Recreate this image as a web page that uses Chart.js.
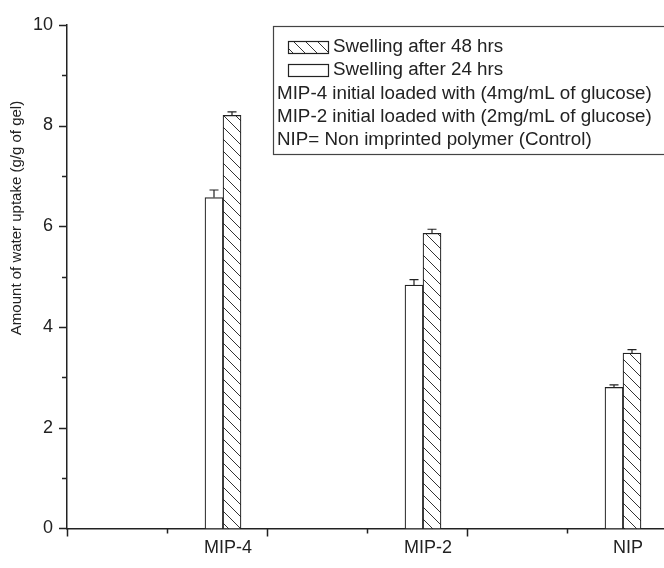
<!DOCTYPE html>
<html>
<head>
<meta charset="utf-8">
<script src="https://cdn.jsdelivr.net/npm/chart.js@4.4.0/dist/chart.umd.min.js"></script>
<style>
  body { margin: 0; background: #fff; }
  #wrap { width: 664px; height: 568px; }
</style>
</head>
<body>
<div id="wrap"><canvas id="chart"></canvas></div>
<script>
// data
let categories = ['MIP-4', 'MIP-2', 'NIP']
let swelling24 = [6.57, 4.83, 2.80]
let swelling24Err = [0.15, 0.11, 0.05]
let swelling48 = [8.20, 5.86, 3.48]
let swelling48Err = [0.07, 0.08, 0.07]
let yTicks = [0, 2, 4, 6, 8, 10]

// where the groups and their labels sit on the (hidden numeric) x axis
let groupX = [1.56, 3.56, 5.56]
let labelX = [1.61, 3.61, 5.61]

let ink = '#222'
let font = 'Liberation Sans, Arial, sans-serif'

function makeHatch(){
    let s = 12
    let c = document.createElement('canvas')
    c.width = s
    c.height = s
    let g = c.getContext('2d')
    g.fillStyle = '#fff'
    g.fillRect(0, 0, s, s)
    g.strokeStyle = '#333'
    g.lineWidth = 1
    g.beginPath()
    g.moveTo(0, 0); g.lineTo(s, s)
    g.moveTo(-s, 0); g.lineTo(0, s)
    g.moveTo(s, 0); g.lineTo(2 * s, s)
    g.stroke()
    return document.getElementById('chart').getContext('2d').createPattern(c, 'repeat')
}
let hatch = makeHatch()

function points(values){
    return values.map((v, i) => ({x: groupX[i], y: v}))
}

// upper error bars
const errorBars = {
    id: 'errorBars',
    afterDatasetsDraw(chart){
        const ctx = chart.ctx
        const y = chart.scales.y
        const errs = [swelling24Err, swelling48Err]
        ctx.save()
        ctx.strokeStyle = ink
        ctx.lineWidth = 1.2
        chart.data.datasets.forEach((ds, d) => {
            chart.getDatasetMeta(d).data.forEach((bar, i) => {
                let top = y.getPixelForValue(ds.data[i].y + errs[d][i])
                ctx.beginPath()
                ctx.moveTo(bar.x, bar.y)
                ctx.lineTo(bar.x, top)
                ctx.moveTo(bar.x - 4.5, top)
                ctx.lineTo(bar.x + 4.5, top)
                ctx.stroke()
            })
        })
        ctx.restore()
    }
}

// major + minor tick marks pointing outwards, plus the y title
const tickMarks = {
    id: 'tickMarks',
    afterDraw(chart){
        const ctx = chart.ctx
        const {x, y} = chart.scales
        const area = chart.chartArea
        ctx.save()
        ctx.strokeStyle = ink
        ctx.lineWidth = 1.5
        ctx.beginPath()
        for(let v = 0; v <= 10; v++){
            let py = Math.round(y.getPixelForValue(v)) + 0.5
            let len = v % 2 == 0 ? 8 : 5
            ctx.moveTo(area.left, py)
            ctx.lineTo(area.left - len, py)
        }
        for(let v = 0; v <= Math.floor(x.max); v++){
            let px = Math.round(x.getPixelForValue(v)) + 0.5
            let len = v % 2 == 0 ? 8 : 5
            ctx.moveTo(px, area.bottom)
            ctx.lineTo(px, area.bottom + len)
        }
        ctx.stroke()

        ctx.translate(17, 218)
        ctx.rotate(-Math.PI / 2)
        ctx.fillStyle = ink
        ctx.font = '15px ' + font
        ctx.textAlign = 'center'
        ctx.textBaseline = 'middle'
        ctx.fillText('Amount of water uptake (g/g of gel)', 0, 0)
        ctx.restore()
    }
}

// boxed legend with the extra note lines
const noteLegend = {
    id: 'noteLegend',
    afterDraw(chart){
        const ctx = chart.ctx
        ctx.save()
        ctx.strokeStyle = '#444'
        ctx.lineWidth = 1.2
        ctx.strokeRect(273.5, 26.5, 420, 128)

        ctx.fillStyle = hatch
        ctx.fillRect(288, 41, 40, 12)
        ctx.strokeStyle = ink
        ctx.strokeRect(288.5, 41.5, 40, 12)
        ctx.fillStyle = '#fff'
        ctx.fillRect(288, 64, 40, 12)
        ctx.strokeRect(288.5, 64.5, 40, 12)

        ctx.fillStyle = ink
        ctx.font = '18.8px ' + font
        ctx.textBaseline = 'middle'
        ctx.fillText('Swelling after 48 hrs', 333, 47)
        ctx.fillText('Swelling after 24 hrs', 333, 70)
        ctx.fillText('MIP-4 initial loaded with (4mg/mL of glucose)', 277, 94)
        ctx.fillText('MIP-2 initial loaded with (2mg/mL of glucose)', 277, 117)
        ctx.fillText('NIP= Non imprinted polymer (Control)', 277, 140)
        ctx.restore()
    }
}

new Chart(document.getElementById('chart'), {
    type: 'bar',
    data: {
        datasets: [{
            label: 'Swelling after 24 hrs',
            data: points(swelling24),
            backgroundColor: '#fff',
            borderColor: ink,
            borderWidth: 1.2,
            barThickness: 18
        }, {
            label: 'Swelling after 48 hrs',
            data: points(swelling48),
            backgroundColor: hatch,
            borderColor: ink,
            borderWidth: 1.2,
            barThickness: 18
        }]
    },
    options: {
        responsive: true,
        maintainAspectRatio: false,
        animation: false,
        layout: { padding: { top: 20, right: 0, left: 0, bottom: 0 } },
        plugins: {
            legend: { display: false },
            tooltip: { enabled: false }
        },
        scales: {
            x: {
                type: 'linear',
                offset: false,
                min: 0,
                max: 5.97,
                afterBuildTicks: scale => {
                    scale.ticks = labelX.map(v => ({value: v}))
                },
                ticks: {
                    color: ink,
                    padding: 9,
                    maxRotation: 0,
                    font: { family: font, size: 18 },
                    callback: (value, index) => categories[index]
                },
                grid: { display: false, drawTicks: false, offset: false },
                border: { display: true, color: ink, width: 1.5 }
            },
            y: {
                min: 0,
                max: 10,
                afterBuildTicks: scale => {
                    scale.ticks = yTicks.map(v => ({value: v}))
                },
                afterFit: scale => { scale.width = 67 },
                ticks: {
                    color: ink,
                    padding: 14,
                    font: { family: font, size: 18 }
                },
                grid: { display: false, drawTicks: false },
                border: { display: true, color: ink, width: 1.5 }
            }
        }
    },
    plugins: [errorBars, tickMarks, noteLegend]
})
</script>
</body>
</html>
